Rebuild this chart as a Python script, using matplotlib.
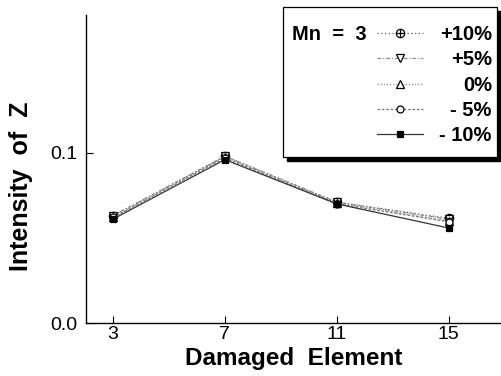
import matplotlib
matplotlib.use('Agg')
import matplotlib.pyplot as plt
from matplotlib.patches import Rectangle
from matplotlib.path import Path

plt.rcParams['font.family'] = ['Liberation Sans', 'DejaVu Sans']

# data
elements = [3, 7, 11, 15]
labels = ['+10%', '+5%', '0%', '- 5%', '- 10%']
z_p10 = [0.063, 0.098, 0.071, 0.0615]
z_p5 = [0.063, 0.098, 0.071, 0.061]
z_0 = [0.062, 0.0975, 0.0705, 0.060]
z_m5 = [0.062, 0.097, 0.070, 0.0595]
z_m10 = [0.061, 0.096, 0.070, 0.0558]

# circle with a cross (open) marker
oplus = Path.make_compound_path(
    Path.unit_circle(),
    Path([[-1, 0], [1, 0]], [Path.MOVETO, Path.LINETO]),
    Path([[0, -1], [0, 1]], [Path.MOVETO, Path.LINETO]),
)

series = [z_p10, z_p5, z_0, z_m5, z_m10]
styles = [
    dict(ls=(0, (1, 2)), marker=oplus, ms=6, mfc='none', mec='black', color='0.35'),
    dict(ls=(0, (3, 1.5, 1, 1.5)), marker='v', ms=5.5, mfc='white', mec='black', color='0.55'),
    dict(ls=(0, (1, 1.5)), marker='^', ms=5.5, mfc='white', mec='black', color='0.55'),
    dict(ls=(0, (2, 1.5)), marker='o', ms=5, mfc='white', mec='black', color='0.45'),
    dict(ls='-', marker='s', ms=4.5, mfc='black', mec='black', color='0.2'),
]

fig = plt.figure(figsize=(5.02, 3.76), dpi=100)
ax = fig.add_axes([86/502, 1 - 323/376, 1 - 86/502, (323 - 15)/376])

handles = []
for vals, st, lab in zip(series, styles, labels):
    h, = ax.plot(elements, vals, lw=0.9, mew=0.9, label=lab, **st)
    handles.append(h)

ax.set_xlim(2.04, 16.9)
ax.set_ylim(0, 0.181)
ax.set_xticks(elements)
ax.set_yticks([0.0, 0.1])
ax.set_yticklabels(['0.0', '0.1'])
ax.tick_params(direction='in', length=5, width=0.8, labelsize=14)
ax.tick_params(axis='x', pad=2)
ax.tick_params(axis='y', pad=6)
for s in ['top', 'right']:
    ax.spines[s].set_visible(False)
for s in ['left', 'bottom']:
    ax.spines[s].set_linewidth(1.0)

ax.set_xlabel('Damaged  Element', fontsize=17.5, fontweight='bold', labelpad=3)
ax.set_ylabel('Intensity  of  Z', fontsize=18, fontweight='bold')
ax.yaxis.set_label_coords(-0.128, 0.445)

# legend box with shadow
ax.add_patch(Rectangle((287/502, 1 - 161/376), 214/502, 150/376, transform=fig.transFigure,
                       facecolor='black', edgecolor='black', clip_on=False, zorder=4))
ax.add_patch(Rectangle((283/502, 1 - 157/376), 214/502, 150/376, transform=fig.transFigure,
                       facecolor='white', edgecolor='black', lw=0.9, clip_on=False, zorder=4.5))

leg = ax.legend(handles=handles, loc='upper left', bbox_to_anchor=(367/502, 1 - 15/376),
                bbox_transform=fig.transFigure, frameon=False, handlelength=2.3,
                handletextpad=0.8, labelspacing=0.31, borderpad=0,
                prop=dict(size=14.5, weight='bold'))
leg.set_zorder(5)

# right-align the legend labels
fig.canvas.draw()
r = fig.canvas.get_renderer()
texts = leg.get_texts()
widths = [t.get_window_extent(r).width for t in texts]
wmax = max(widths)
for t, w in zip(texts, widths):
    t.set_x(wmax - w)

bb = texts[0].get_window_extent(r)
ymid = (bb.y0 + bb.y1) / 2 / fig.bbox.height
fig.text(292/502, ymid, 'Mn  =  3', fontsize=14.5, fontweight='bold', va='center', zorder=6)

fig.savefig('out.png', dpi=100)
